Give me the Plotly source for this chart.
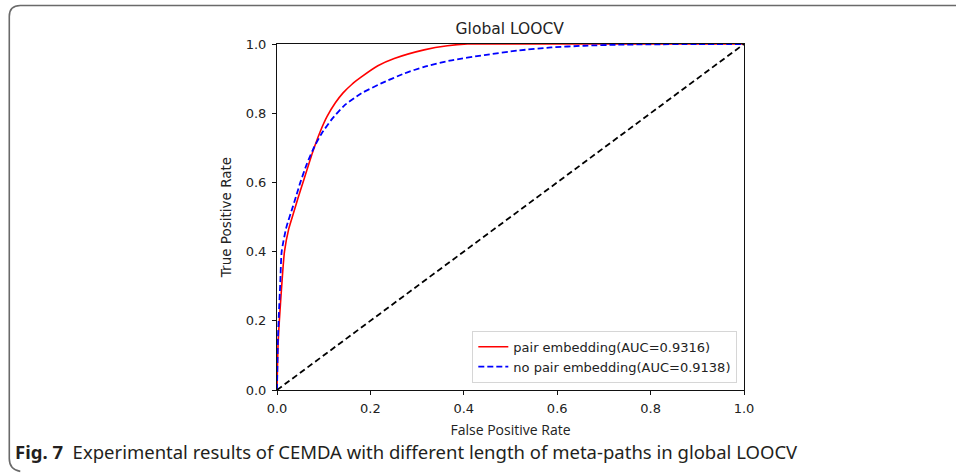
import plotly.graph_objects as go

# ---- data ----
red_fpr = [0, 0.002, 0.005, 0.010, 0.016, 0.025, 0.035, 0.045, 0.058, 0.077, 0.092, 0.107, 0.125, 0.141,
           0.160, 0.180, 0.216, 0.251, 0.315, 0.365, 0.408, 0.5, 0.7, 1.0]
red_tpr = [0, 0.12, 0.20, 0.30, 0.40, 0.465, 0.51, 0.555, 0.61, 0.69, 0.745, 0.79, 0.83, 0.858,
           0.883, 0.904, 0.937, 0.958, 0.983, 0.995, 1.0, 1.0, 1.0, 1.0]
blue_fpr = [0, 0.002, 0.004, 0.007, 0.010, 0.020, 0.034, 0.042, 0.050, 0.063, 0.077, 0.095, 0.116, 0.144,
            0.180, 0.223, 0.273, 0.315, 0.370, 0.444, 0.515, 0.587, 0.658, 0.730, 0.800, 0.900, 1.0]
blue_tpr = [0, 0.15, 0.22, 0.31, 0.40, 0.47, 0.53, 0.565, 0.60, 0.65, 0.695, 0.74, 0.78, 0.822,
            0.857, 0.886, 0.915, 0.934, 0.952, 0.968, 0.981, 0.990, 0.995, 0.998, 0.999, 1.0, 1.0]
diag = [0, 1]
ticks = [0.0, 0.2, 0.4, 0.6, 0.8, 1.0]
tick_text = ["0.0", "0.2", "0.4", "0.6", "0.8", "1.0"]
red_name = "pair embedding(AUC=0.9316)"
blue_name = "no pair embedding(AUC=0.9138)"

# ---- layout geometry (pixels) ----
W, H = 956, 474
X0, X1 = 276.5, 744.0
YT, YB = 44.0, 390.5


def px(x):
    return (x - X0) / (X1 - X0)


def py(y):
    return (YB - y) / (YB - YT)


fig = go.Figure()
fig.add_trace(go.Scatter(x=red_fpr, y=red_tpr, mode="lines", name=red_name, line_shape="spline",
                         line=dict(color="#ff0000", width=1.6, smoothing=0.6)))
fig.add_trace(go.Scatter(x=blue_fpr, y=blue_tpr, mode="lines", name=blue_name, line_shape="spline",
                         line=dict(color="#0000ff", width=1.8, dash="6px,3px", smoothing=0.6)))
fig.add_trace(go.Scatter(x=diag, y=diag, mode="lines", showlegend=False,
                         line=dict(color="black", width=1.8, dash="6px,3.5px")))

axis_common = dict(range=[0, 1], showgrid=False, zeroline=False, showline=True, mirror=True,
                   linecolor="#111", linewidth=1, ticks="outside", ticklen=4, tickcolor="#111",
                   tickvals=ticks, ticktext=tick_text,
                   tickfont=dict(family="DejaVu Sans", size=13, color="#222"))

fig.update_layout(
    width=W, height=H,
    margin=dict(l=X0, r=W - X1, t=YT, b=H - YB, pad=0),
    paper_bgcolor="white", plot_bgcolor="white",
    title=dict(text="Global LOOCV", x=px(509.5), xref="paper", xanchor="center",
               y=1 - 29 / H, yanchor="middle",
               font=dict(family="DejaVu Sans", size=15.5, color="#222")),
    xaxis=dict(**axis_common, ticklabelstandoff=2,
               title=dict(text="False Positive Rate", standoff=10,
                          font=dict(family="Open Sans", size=14, color="#222"))),
    yaxis=dict(**axis_common, ticklabelstandoff=3,
               title=dict(text="True Positive Rate", standoff=10,
                          font=dict(family="DejaVu Sans", size=13.5, color="#222"))),
    legend=dict(x=px(737.3), y=py(383.3), xanchor="right", yanchor="bottom",
                bgcolor="rgba(255,255,255,0.8)", bordercolor="#d6d6d6", borderwidth=1,
                font=dict(family="DejaVu Sans", size=13, color="#222"),
                itemwidth=30, tracegroupgap=0),
    showlegend=True,
)

# caption
fig.add_annotation(text="<b>Fig. 7</b>  Experimental results of CEMDA with different length of meta-paths in global LOOCV",
                   xref="paper", yref="paper", x=px(12), y=py(452), xanchor="left", yanchor="middle",
                   showarrow=False, font=dict(family="Noto Sans", size=18.5, color="#231f20"))

# outer rounded frame (decoration)
r = 11
path = (f"M {px(W + 5)},{py(5.5)} L {px(8.5 + r)},{py(5.5)} "
        f"Q {px(8.5)},{py(5.5)} {px(8.5)},{py(5.5 + r)} "
        f"L {px(8.5)},{py(470 - r)} Q {px(8.5)},{py(470)} {px(8.5 + r)},{py(472)}")
fig.add_shape(type="path", path=path, xref="paper", yref="paper",
              line=dict(color="#6a6a6a", width=1.6), layer="above")

fig.write_html("out.html")
